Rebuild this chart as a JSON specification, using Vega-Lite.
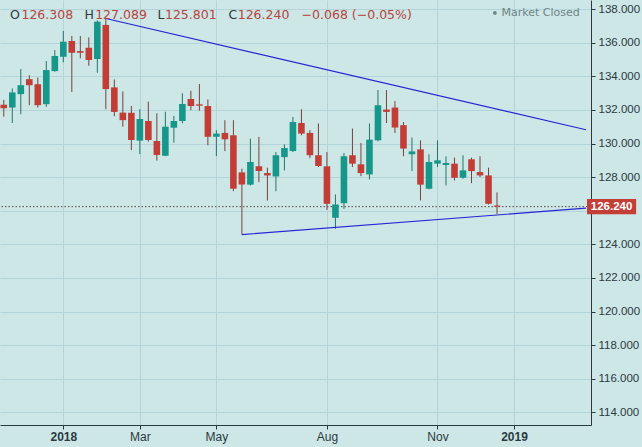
{
  "$schema": "https://vega.github.io/schema/vega-lite/v6.json",
  "width": 591,
  "height": 425,
  "autosize": {"type": "none"},
  "padding": {"left": 0, "top": 0, "right": 51, "bottom": 22},
  "background": "#cde6e6",
  "config": {
    "view": {"stroke": null},
    "axis": {
      "domainColor": "#2b3a3f",
      "tickColor": "#2b3a3f",
      "labelColor": "#2b3a3f",
      "gridColor": "#b4d4da",
      "gridWidth": 1,
      "tickSize": 4,
      "labelOverlap": false,
      "labelFont": "Liberation Sans"
    }
  },
  "datasets": {
    "candles": [
      {"date": "2017-11-13", "open": 132.30, "high": 132.60, "low": 131.60, "close": 132.10},
      {"date": "2017-11-20", "open": 132.14, "high": 133.28, "low": 131.22, "close": 133.04},
      {"date": "2017-11-27", "open": 132.94, "high": 134.43, "low": 131.74, "close": 133.47},
      {"date": "2017-12-04", "open": 133.83, "high": 134.07, "low": 132.28, "close": 133.47},
      {"date": "2017-12-11", "open": 133.53, "high": 133.93, "low": 132.14, "close": 132.28},
      {"date": "2017-12-18", "open": 132.34, "high": 134.91, "low": 132.18, "close": 134.37},
      {"date": "2017-12-25", "open": 134.31, "high": 135.56, "low": 134.27, "close": 135.21},
      {"date": "2018-01-01", "open": 135.16, "high": 136.70, "low": 134.83, "close": 136.06},
      {"date": "2018-01-08", "open": 136.10, "high": 136.40, "low": 133.07, "close": 135.40},
      {"date": "2018-01-15", "open": 135.50, "high": 136.40, "low": 135.07, "close": 135.40},
      {"date": "2018-01-22", "open": 135.70, "high": 136.32, "low": 134.63, "close": 134.97},
      {"date": "2018-01-29", "open": 135.03, "high": 137.33, "low": 134.21, "close": 137.25},
      {"date": "2018-02-05", "open": 137.06, "high": 137.44, "low": 132.04, "close": 133.24},
      {"date": "2018-02-12", "open": 133.34, "high": 133.81, "low": 131.62, "close": 131.88},
      {"date": "2018-02-19", "open": 131.84, "high": 133.10, "low": 131.00, "close": 131.39},
      {"date": "2018-02-26", "open": 131.83, "high": 132.23, "low": 129.61, "close": 130.21},
      {"date": "2018-03-05", "open": 130.17, "high": 132.04, "low": 129.37, "close": 131.46},
      {"date": "2018-03-12", "open": 131.34, "high": 132.49, "low": 130.11, "close": 130.21},
      {"date": "2018-03-19", "open": 130.15, "high": 131.80, "low": 128.98, "close": 129.32},
      {"date": "2018-03-26", "open": 129.27, "high": 131.89, "low": 129.25, "close": 131.00},
      {"date": "2018-04-02", "open": 130.94, "high": 131.64, "low": 130.05, "close": 131.34},
      {"date": "2018-04-09", "open": 131.34, "high": 132.99, "low": 131.20, "close": 132.35},
      {"date": "2018-04-16", "open": 132.65, "high": 133.14, "low": 131.99, "close": 132.23},
      {"date": "2018-04-23", "open": 132.33, "high": 133.54, "low": 131.95, "close": 132.25},
      {"date": "2018-04-30", "open": 132.23, "high": 132.62, "low": 129.89, "close": 130.40},
      {"date": "2018-05-07", "open": 130.40, "high": 130.79, "low": 129.25, "close": 130.59},
      {"date": "2018-05-14", "open": 130.63, "high": 131.39, "low": 129.55, "close": 130.25},
      {"date": "2018-05-21", "open": 130.49, "high": 131.39, "low": 127.16, "close": 127.31},
      {"date": "2018-05-28", "open": 128.28, "high": 128.50, "low": 124.58, "close": 127.56},
      {"date": "2018-06-04", "open": 127.55, "high": 130.29, "low": 127.50, "close": 128.90},
      {"date": "2018-06-11", "open": 128.64, "high": 130.39, "low": 127.70, "close": 128.36},
      {"date": "2018-06-18", "open": 128.24, "high": 128.56, "low": 126.61, "close": 128.10},
      {"date": "2018-06-25", "open": 128.04, "high": 129.49, "low": 127.16, "close": 129.30},
      {"date": "2018-07-02", "open": 129.19, "high": 129.95, "low": 128.40, "close": 129.73},
      {"date": "2018-07-09", "open": 129.55, "high": 131.58, "low": 129.49, "close": 131.28},
      {"date": "2018-07-16", "open": 131.22, "high": 132.04, "low": 130.49, "close": 130.59},
      {"date": "2018-07-23", "open": 130.63, "high": 130.79, "low": 129.13, "close": 129.30},
      {"date": "2018-07-30", "open": 129.30, "high": 131.19, "low": 128.60, "close": 128.66},
      {"date": "2018-08-06", "open": 128.64, "high": 129.49, "low": 126.05, "close": 126.41},
      {"date": "2018-08-13", "open": 125.58, "high": 126.97, "low": 124.92, "close": 126.37},
      {"date": "2018-08-20", "open": 126.45, "high": 129.43, "low": 126.11, "close": 129.24},
      {"date": "2018-08-27", "open": 129.30, "high": 130.89, "low": 128.60, "close": 128.80},
      {"date": "2018-09-03", "open": 128.76, "high": 130.03, "low": 128.06, "close": 128.24},
      {"date": "2018-09-10", "open": 128.16, "high": 131.19, "low": 127.86, "close": 130.23},
      {"date": "2018-09-17", "open": 130.19, "high": 133.18, "low": 130.13, "close": 132.28},
      {"date": "2018-09-24", "open": 132.02, "high": 133.18, "low": 131.22, "close": 131.88},
      {"date": "2018-10-01", "open": 132.14, "high": 132.52, "low": 130.63, "close": 130.95},
      {"date": "2018-10-08", "open": 131.09, "high": 131.28, "low": 129.24, "close": 129.70},
      {"date": "2018-10-15", "open": 129.36, "high": 130.35, "low": 128.36, "close": 129.53},
      {"date": "2018-10-22", "open": 129.65, "high": 130.19, "low": 126.61, "close": 127.55},
      {"date": "2018-10-29", "open": 127.31, "high": 129.36, "low": 127.27, "close": 128.90},
      {"date": "2018-11-05", "open": 128.80, "high": 130.19, "low": 128.60, "close": 129.00},
      {"date": "2018-11-12", "open": 128.72, "high": 129.24, "low": 127.50, "close": 128.84},
      {"date": "2018-11-19", "open": 128.80, "high": 129.16, "low": 127.80, "close": 127.96},
      {"date": "2018-11-26", "open": 127.96, "high": 129.30, "low": 127.90, "close": 128.40},
      {"date": "2018-12-03", "open": 129.06, "high": 129.16, "low": 127.64, "close": 128.36},
      {"date": "2018-12-10", "open": 128.30, "high": 129.24, "low": 128.00, "close": 128.10},
      {"date": "2018-12-17", "open": 128.10, "high": 128.56, "low": 126.37, "close": 126.41},
      {"date": "2018-12-24", "open": 126.308, "high": 127.089, "low": 125.801, "close": 126.240}
    ],
    "trend": [
      {"line": "upper", "date": "2018-02-05T00:00:00Z", "price": 137.44},
      {"line": "upper", "date": "2019-03-07T06:00:00Z", "price": 130.82},
      {"line": "lower", "date": "2018-05-28T00:00:00Z", "price": 124.58},
      {"line": "lower", "date": "2019-03-07T06:00:00Z", "price": 126.15}
    ]
  },
  "layer": [
    {
      "data": {"name": "candles"},
      "mark": {"type": "rule", "strokeWidth": 1, "clip": true},
      "encoding": {
        "x": {
          "field": "date",
          "type": "temporal",
          "scale": {
            "type": "utc",
            "domain": [
              {"year": 2017, "month": 11, "date": 14, "utc": true},
              {"year": 2019, "month": 3, "date": 7, "hours": 6, "utc": true}
            ]
          },
          "axis": {
            "title": null,
            "grid": true,
            "values": [
              {"year": 2018, "month": 1, "date": 1, "utc": true},
              {"year": 2018, "month": 3, "date": 5, "utc": true},
              {"year": 2018, "month": 5, "date": 7, "utc": true},
              {"year": 2018, "month": 8, "date": 6, "utc": true},
              {"year": 2018, "month": 11, "date": 5, "utc": true},
              {"year": 2019, "month": 1, "date": 7, "utc": true}
            ],
            "labelExpr": "utcFormat(datum.value, '%m') == '01' ? utcFormat(datum.value, '%Y') : utcFormat(datum.value, '%b')",
            "labelFontWeight": {"condition": {"test": "utcFormat(datum.value, '%m') == '01'", "value": "bold"}, "value": "normal"},
            "labelFont": "Liberation Sans Narrow, Liberation Sans",
            "labelFontSize": 12,
            "labelPadding": 2
          }
        },
        "y": {
          "field": "low",
          "type": "quantitative",
          "scale": {"domain": [113.244, 138.542], "nice": false, "zero": false},
          "axis": {
            "title": null,
            "orient": "right",
            "grid": true,
            "tickCount": 13,
            "values": [114, 116, 118, 120, 122, 124, 126, 128, 130, 132, 134, 136, 138],
            "labelExpr": "datum.value == 126 ? '' : format(datum.value, '.3f')",
            "labelFontSize": 11.5,
            "labelPadding": 3
          }
        },
        "y2": {"field": "high"},
        "color": {
          "condition": {"test": "datum.close >= datum.open", "value": "#25756b"},
          "value": "#74443f"
        }
      }
    },
    {
      "data": {"values": [{}]},
      "mark": {"type": "rule", "color": "#5a4646", "strokeDash": [1.5, 2], "strokeWidth": 1},
      "encoding": {
        "y": {"datum": 126.24, "type": "quantitative"}
      }
    },
    {
      "data": {"name": "candles"},
      "mark": {"type": "bar", "width": 6.6, "clip": true},
      "encoding": {
        "x": {"field": "date", "type": "temporal"},
        "y": {"field": "open", "type": "quantitative"},
        "y2": {"field": "close"},
        "color": {
          "condition": {"test": "datum.close >= datum.open", "value": "#16978a"},
          "value": "#c23d36"
        }
      }
    },
    {
      "data": {"name": "trend"},
      "mark": {"type": "line", "color": "#2626d4", "strokeWidth": 1.2},
      "encoding": {
        "x": {"field": "date", "type": "temporal"},
        "y": {"field": "price", "type": "quantitative"},
        "detail": {"field": "line"}
      }
    },
    {
      "data": {"values": [{}]},
      "mark": {"type": "rect", "color": "#c23e37"},
      "encoding": {
        "x": {"datum": {"year": 2019, "month": 3, "date": 8, "hours": 2, "utc": true}, "type": "temporal"},
        "x2": {"datum": {"year": 2019, "month": 4, "date": 17, "hours": 12, "utc": true}},
        "y": {"datum": 126.70, "type": "quantitative"},
        "y2": {"datum": 125.79}
      }
    },
    {
      "data": {"values": [{}]},
      "mark": {"type": "text", "text": "126.240", "color": "#ffffff", "fontWeight": "bold", "font": "Liberation Sans", "fontSize": 11.5, "align": "center", "baseline": "middle"},
      "encoding": {
        "x": {"datum": {"year": 2019, "month": 3, "date": 28, "hours": 7, "utc": true}, "type": "temporal"},
        "y": {"datum": 126.245, "type": "quantitative"}
      }
    },
    {
      "data": {"values": [{}]},
      "mark": {"type": "text", "text": "O", "color": "#2c3b3f", "font": "DejaVu Sans", "fontSize": 12.5, "align": "left", "baseline": "middle"},
      "encoding": {
        "x": {"datum": {"year": 2017, "month": 11, "date": 18, "hours": 1, "utc": true}, "type": "temporal"},
        "y": {"datum": 137.65, "type": "quantitative"}
      }
    },
    {
      "data": {"values": [{}]},
      "mark": {"type": "text", "text": "126.308", "color": "#b8453f", "font": "DejaVu Sans", "fontSize": 12.5, "align": "left", "baseline": "middle"},
      "encoding": {
        "x": {"datum": {"year": 2017, "month": 11, "date": 27, "hours": 13, "utc": true}, "type": "temporal"},
        "y": {"datum": 137.65, "type": "quantitative"}
      }
    },
    {
      "data": {"values": [{}]},
      "mark": {"type": "text", "text": "H", "color": "#2c3b3f", "font": "DejaVu Sans", "fontSize": 12.5, "align": "left", "baseline": "middle"},
      "encoding": {
        "x": {"datum": {"year": 2018, "month": 1, "date": 18, "hours": 13, "utc": true}, "type": "temporal"},
        "y": {"datum": 137.65, "type": "quantitative"}
      }
    },
    {
      "data": {"values": [{}]},
      "mark": {"type": "text", "text": "127.089", "color": "#b8453f", "font": "DejaVu Sans", "fontSize": 12.5, "align": "left", "baseline": "middle"},
      "encoding": {
        "x": {"datum": {"year": 2018, "month": 1, "date": 27, "hours": 5, "utc": true}, "type": "temporal"},
        "y": {"datum": 137.65, "type": "quantitative"}
      }
    },
    {
      "data": {"values": [{}]},
      "mark": {"type": "text", "text": "L", "color": "#2c3b3f", "font": "DejaVu Sans", "fontSize": 12.5, "align": "left", "baseline": "middle"},
      "encoding": {
        "x": {"datum": {"year": 2018, "month": 3, "date": 19, "hours": 11, "utc": true}, "type": "temporal"},
        "y": {"datum": 137.65, "type": "quantitative"}
      }
    },
    {
      "data": {"values": [{}]},
      "mark": {"type": "text", "text": "125.801", "color": "#b8453f", "font": "DejaVu Sans", "fontSize": 12.5, "align": "left", "baseline": "middle"},
      "encoding": {
        "x": {"datum": {"year": 2018, "month": 3, "date": 25, "hours": 16, "utc": true}, "type": "temporal"},
        "y": {"datum": 137.65, "type": "quantitative"}
      }
    },
    {
      "data": {"values": [{}]},
      "mark": {"type": "text", "text": "C", "color": "#2c3b3f", "font": "DejaVu Sans", "fontSize": 12.5, "align": "left", "baseline": "middle"},
      "encoding": {
        "x": {"datum": {"year": 2018, "month": 5, "date": 16, "hours": 23, "utc": true}, "type": "temporal"},
        "y": {"datum": 137.65, "type": "quantitative"}
      }
    },
    {
      "data": {"values": [{}]},
      "mark": {"type": "text", "text": "126.240", "color": "#b8453f", "font": "DejaVu Sans", "fontSize": 12.5, "align": "left", "baseline": "middle"},
      "encoding": {
        "x": {"datum": {"year": 2018, "month": 5, "date": 24, "hours": 13, "utc": true}, "type": "temporal"},
        "y": {"datum": 137.65, "type": "quantitative"}
      }
    },
    {
      "data": {"values": [{}]},
      "mark": {"type": "text", "text": "−0.068 (−0.05%)", "color": "#b8453f", "font": "DejaVu Sans", "fontSize": 12.5, "align": "left", "baseline": "middle"},
      "encoding": {
        "x": {"datum": {"year": 2018, "month": 7, "date": 16, "hours": 4, "utc": true}, "type": "temporal"},
        "y": {"datum": 137.65, "type": "quantitative"}
      }
    },
    {
      "data": {"values": [{}]},
      "mark": {"type": "circle", "size": 14, "color": "#6d8585", "opacity": 1},
      "encoding": {
        "x": {"datum": {"year": 2018, "month": 12, "date": 22, "hours": 6, "utc": true}, "type": "temporal"},
        "y": {"datum": 137.77, "type": "quantitative"}
      }
    },
    {
      "data": {"values": [{}]},
      "mark": {"type": "text", "text": "Market Closed", "color": "#6d8585", "font": "DejaVu Sans", "fontSize": 11, "align": "left", "baseline": "middle"},
      "encoding": {
        "x": {"datum": {"year": 2018, "month": 12, "date": 27, "hours": 16, "utc": true}, "type": "temporal"},
        "y": {"datum": 137.77, "type": "quantitative"}
      }
    }
  ]
}
